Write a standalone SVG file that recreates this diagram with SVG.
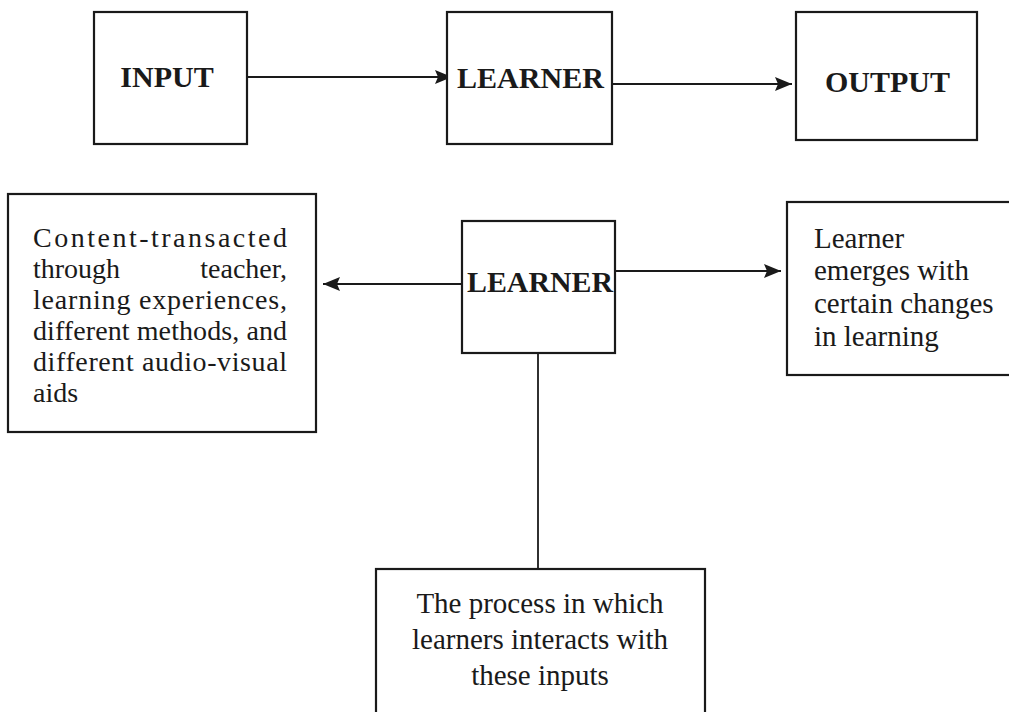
<svg xmlns="http://www.w3.org/2000/svg" width="1009" height="712" viewBox="0 0 1009 712">
<style>
.box{fill:#fff;stroke:#1a1a1a;stroke-width:2.2}
.bold{font-family:"Liberation Serif","Times New Roman",serif;font-weight:bold;font-size:30px;fill:#1a1a1a}
.txt{font-family:"Liberation Serif","Times New Roman",serif;font-size:28px;fill:#1a1a1a}
.txt2{font-family:"Liberation Serif","Times New Roman",serif;font-size:29px;fill:#1a1a1a}
.conn{stroke:#1a1a1a;stroke-width:1.8;fill:none}
</style>
<defs>
<marker id="arr" markerUnits="userSpaceOnUse" markerWidth="18" markerHeight="16" refX="17" refY="8" orient="auto">
<path d="M0,1 L17,8 L0,15 L3,8 Z" fill="#1a1a1a"/>
</marker>
</defs>
<rect width="1009" height="712" fill="#fff"/>
<g id="connectors">
<line class="conn" x1="248" y1="77" x2="452" y2="77" marker-end="url(#arr)"/>
<line class="conn" x1="612" y1="84" x2="792" y2="84" marker-end="url(#arr)"/>
<line class="conn" x1="462" y1="284" x2="323" y2="284" marker-end="url(#arr)"/>
<line class="conn" x1="615" y1="271" x2="781" y2="271" marker-end="url(#arr)"/>
<line class="conn" x1="538" y1="353" x2="538" y2="569"/>
</g>
<g id="input">
<rect class="box" x="94" y="12" width="153" height="132"/>
<text class="bold" x="167" y="87" text-anchor="middle">INPUT</text>
</g>
<g id="learner-top">
<rect class="box" x="447" y="12" width="165" height="132"/>
<text class="bold" x="457" y="88" textLength="147" lengthAdjust="spacingAndGlyphs">LEARNER</text>
</g>
<g id="output">
<rect class="box" x="796" y="12" width="181" height="128"/>
<text class="bold" x="825" y="92" textLength="125" lengthAdjust="spacingAndGlyphs">OUTPUT</text>
</g>
<g id="content">
<rect class="box" x="8" y="194" width="308" height="238"/>
<text class="txt" x="33" y="247" textLength="254" lengthAdjust="spacing">Content-transacted</text>
<text class="txt" x="33" y="278">through</text>
<text class="txt" x="287" y="278" text-anchor="end">teacher,</text>
<text class="txt" x="33" y="309" textLength="254" lengthAdjust="spacing">learning experiences,</text>
<text class="txt" x="33" y="340" textLength="254" lengthAdjust="spacing">different methods, and</text>
<text class="txt" x="33" y="371" textLength="254" lengthAdjust="spacing">different audio-visual</text>
<text class="txt" x="33" y="402">aids</text>
</g>
<g id="learner-mid">
<rect class="box" x="462" y="221" width="153" height="132"/>
<text class="bold" x="467" y="292" textLength="146" lengthAdjust="spacingAndGlyphs">LEARNER</text>
</g>
<g id="result">
<rect class="box" x="787" y="202" width="230" height="173"/>
<text class="txt2" x="814" y="248">Learner</text>
<text class="txt2" x="814" y="280">emerges with</text>
<text class="txt2" x="814" y="313">certain changes</text>
<text class="txt2" x="814" y="346">in learning</text>
</g>
<g id="process">
<rect class="box" x="376" y="569" width="329" height="150"/>
<text class="txt2" x="540" y="613" text-anchor="middle">The process in which</text>
<text class="txt2" x="540" y="649" text-anchor="middle">learners interacts with</text>
<text class="txt2" x="540" y="685" text-anchor="middle">these inputs</text>
</g>
</svg>
